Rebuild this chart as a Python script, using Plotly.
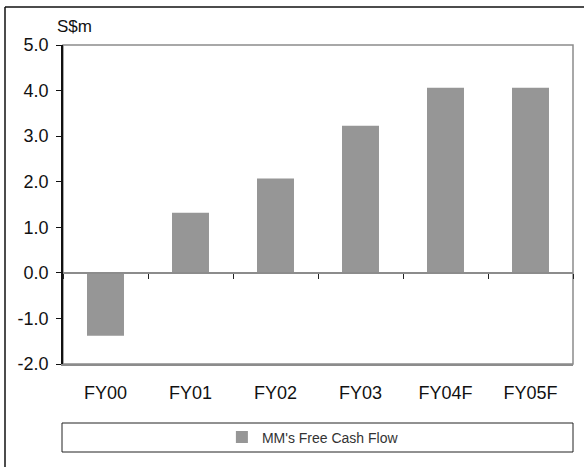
import plotly.graph_objects as go

# Free cash flow by financial year (S$ million); F = forecast
years = ["FY00", "FY01", "FY02", "FY03", "FY04F", "FY05F"]
free_cash_flow = [-1.38, 1.32, 2.07, 3.23, 4.06, 4.06]
series_name = "MM's Free Cash Flow"
unit_label = "S$m"
y_ticks = [-2.0, -1.0, 0.0, 1.0, 2.0, 3.0, 4.0, 5.0]

W, H = 584, 467
ML, MR, MT, MB = 63, 11, 45, 103
PW, PH = W - ML - MR, H - MT - MB


def px_x(p):
    return (p - ML) / PW


def px_y(p):
    return (H - MB - p) / PH


FONT = "Liberation Sans, Arial, sans-serif"
BAR = "#969696"
GREY_LINE = "#8c8c8c"
FRAME = dict(color="#111111", width=1.5)

fig = go.Figure()
fig.add_trace(go.Bar(
    x=years, y=free_cash_flow, name=series_name,
    marker=dict(color=BAR, line=dict(width=0)),
))
# carrier for the zero-line axis with boundary ticks
fig.add_trace(go.Scatter(
    x=years, y=[0] * len(years), xaxis="x2", mode="none",
    showlegend=False, hoverinfo="skip",
))

y_min, y_max = y_ticks[0], y_ticks[-1]

fig.update_layout(
    width=W, height=H,
    margin=dict(l=ML, r=MR, t=MT, b=MB, pad=0),
    paper_bgcolor="white", plot_bgcolor="white",
    font=dict(family=FONT, color="#111111"),
    bargap=0.565,
    showlegend=True,
    legend=dict(
        orientation="h", x=0.49, xanchor="center",
        y=px_y(437.5), yanchor="middle",
        bgcolor="rgba(0,0,0,0)", borderwidth=0,
        font=dict(family=FONT, size=14, color="#333333"),
        itemwidth=30,
    ),
    xaxis=dict(
        type="category", categoryarray=years, range=[-0.5, len(years) - 0.5],
        showline=True, linecolor=GREY_LINE, linewidth=1.5,
        ticks="", showgrid=False, zeroline=False,
        tickfont=dict(family=FONT, size=18, color="#111111"),
        ticklabelstandoff=12,
    ),
    xaxis2=dict(
        type="category", categoryarray=years, range=[-0.5, len(years) - 0.5],
        overlaying="x", anchor="free", side="bottom",
        position=(0 - y_min) / (y_max - y_min),
        showline=True, linecolor=GREY_LINE, linewidth=1.5,
        ticks="outside", tickson="boundaries", ticklen=5,
        tickcolor="#222222", tickwidth=1,
        showticklabels=False, showgrid=False, zeroline=False,
    ),
    yaxis=dict(
        range=[y_min, y_max], tickvals=y_ticks,
        ticktext=[f"{v:.1f}" for v in y_ticks],
        showline=True, linecolor="#111111", linewidth=1.5,
        ticks="outside", ticklen=5, tickcolor="#111111", tickwidth=1,
        showgrid=False, zeroline=False,
        tickfont=dict(family=FONT, size=18, color="#111111"),
        ticklabelstandoff=4,
    ),
    shapes=[
        # plot area border
        dict(type="rect", xref="paper", yref="paper", x0=0, x1=1, y0=0, y1=1,
             line=dict(color=GREY_LINE, width=1.5), layer="below"),
        # chart outer frame: left and top edges only, the rest runs off the page
        dict(type="line", xref="paper", yref="paper",
             x0=px_x(5), x1=px_x(5), y0=px_y(467), y1=px_y(7),
             line=FRAME, layer="below"),
        dict(type="line", xref="paper", yref="paper",
             x0=px_x(5), x1=px_x(584), y0=px_y(7), y1=px_y(7),
             line=FRAME, layer="below"),
        # legend frame
        dict(type="rect", xref="paper", yref="paper",
             x0=px_x(62), x1=px_x(573), y0=px_y(452), y1=px_y(423),
             line=dict(color="#222222", width=1), layer="below"),
    ],
    annotations=[
        dict(text=unit_label, xref="paper", yref="paper",
             x=px_x(55), y=px_y(27), xanchor="left", yanchor="middle",
             showarrow=False, font=dict(family=FONT, size=17, color="#111111")),
    ],
)

fig.write_html("out.html")
